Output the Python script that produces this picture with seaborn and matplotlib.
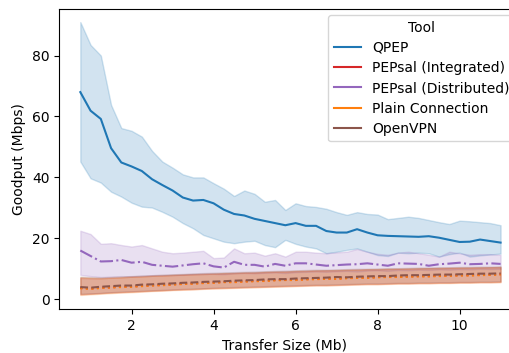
import numpy as np
import pandas as pd
import seaborn as sns
import matplotlib.pyplot as plt

sizes = [0.75, 1.0, 1.25, 1.5, 1.75, 2.0, 2.25, 2.5, 2.75, 3.0, 3.25, 3.5, 3.75, 4.0,
         4.25, 4.5, 4.75, 5.0, 5.25, 5.5, 5.75, 6.0, 6.25, 6.5, 6.75, 7.0, 7.25, 7.5,
         7.75, 8.0, 8.25, 8.5, 8.75, 9.0, 9.25, 9.5, 9.75, 10.0, 10.25, 10.5, 10.75, 11.0]

tools = ["QPEP", "PEPsal (Integrated)", "PEPsal (Distributed)", "Plain Connection", "OpenVPN"]

# goodput per tool: mid line, lower and upper edge of the band
qpep_mid = [68.0, 61.9, 59.2, 49.6, 44.9, 43.6, 42.1, 39.4, 37.5, 35.7, 33.4, 32.4, 32.6, 31.5,
            29.4, 28.0, 27.5, 26.4, 25.7, 25.0, 24.3, 25.0, 24.1, 24.1, 22.4, 21.9, 21.9, 23.0,
            21.9, 21.0, 20.8, 20.7, 20.6, 20.5, 20.7, 20.2, 19.5, 18.8, 18.9, 19.6, 19.1, 18.6]
qpep_lo = [45.2, 39.7, 38.3, 35.3, 33.7, 31.7, 30.4, 30.1, 28.7, 27.1, 25.0, 23.3, 21.1, 20.0,
           18.9, 18.4, 18.9, 19.2, 17.8, 17.1, 19.5, 18.2, 17.3, 16.7, 15.1, 15.6, 16.2, 16.7,
           15.6, 14.5, 14.2, 15.3, 15.1, 15.3, 15.1, 14.0, 14.8, 15.3, 14.0, 14.4, 14.7, 15.0]
qpep_hi = [91.0, 83.5, 80.0, 63.8, 56.2, 55.3, 53.4, 48.7, 45.2, 43.2, 41.0, 40.0, 40.0, 38.1,
           36.3, 33.9, 35.7, 34.6, 32.0, 32.6, 29.3, 31.5, 30.6, 30.3, 29.7, 28.6, 27.7, 28.6,
           28.0, 27.8, 26.3, 26.7, 27.1, 26.7, 26.0, 25.3, 24.7, 25.8, 25.6, 25.3, 25.0, 24.3]

integ_mid = [3.7, 3.5, 3.8, 3.9, 4.1, 4.2, 4.4, 4.6, 4.7, 4.9, 5.1, 5.2, 5.4, 5.5,
             5.7, 5.7, 5.9, 6.0, 6.1, 6.3, 6.4, 6.4, 6.6, 6.7, 6.8, 6.8, 7.0, 7.1,
             7.1, 7.3, 7.4, 7.4, 7.5, 7.6, 7.6, 7.7, 7.8, 7.9, 7.9, 8.0, 8.1, 8.2]
integ_lo = [1.6, 1.8, 2.0, 2.2, 2.3, 2.5, 2.6, 2.8, 2.9, 3.1, 3.2, 3.3, 3.5, 3.6,
            3.7, 3.8, 3.9, 4.0, 4.1, 4.2, 4.3, 4.4, 4.5, 4.6, 4.6, 4.7, 4.8, 4.9,
            5.0, 5.0, 5.1, 5.2, 5.2, 5.3, 5.3, 5.4, 5.4, 5.5, 5.5, 5.6, 5.6, 5.7]
integ_hi = [7.0, 6.9, 6.9, 7.1, 7.2, 7.4, 7.5, 7.7, 7.8, 7.9, 8.1, 8.2, 8.3, 8.4,
            8.5, 8.6, 8.7, 8.8, 8.9, 9.0, 9.1, 9.2, 9.3, 9.4, 9.5, 9.5, 9.6, 9.7,
            9.8, 9.8, 9.9, 10.0, 10.0, 10.1, 10.2, 10.2, 10.3, 10.3, 10.4, 10.4, 10.5, 10.5]

dist_mid = [16.0, 14.2, 12.4, 12.5, 12.9, 12.0, 12.3, 11.3, 11.0, 10.7, 11.1, 11.5, 11.8, 10.8,
            10.4, 12.3, 11.3, 11.3, 10.7, 11.6, 11.0, 11.8, 11.8, 11.4, 11.0, 11.2, 11.4, 11.5,
            11.8, 11.4, 11.0, 11.8, 11.7, 11.6, 11.0, 11.5, 11.7, 12.0, 11.5, 11.6, 11.8, 11.6]
dist_lo = [8.0, 7.6, 7.3, 7.4, 7.6, 7.5, 7.7, 7.8, 7.9, 8.0, 8.0, 8.2, 8.3, 8.3,
           8.2, 8.5, 8.6, 8.5, 8.7, 8.8, 8.6, 8.9, 9.0, 9.1, 9.0, 9.2, 9.3, 9.1,
           9.4, 9.5, 9.3, 9.6, 9.5, 9.7, 9.6, 9.8, 9.7, 9.9, 9.8, 10.0, 9.9, 10.0]
dist_hi = [22.5, 21.4, 18.2, 18.4, 17.8, 17.3, 17.8, 16.7, 15.6, 15.1, 15.3, 15.6, 15.9, 13.5,
           13.7, 16.7, 15.1, 15.3, 14.3, 15.1, 14.0, 15.6, 15.6, 15.3, 15.1, 15.4, 15.6, 16.5,
           15.6, 14.9, 14.6, 15.3, 15.6, 15.1, 14.6, 14.0, 15.6, 15.1, 14.6, 14.8, 14.8, 14.6]

plain_mid = [3.6, 3.4, 3.7, 3.9, 4.0, 4.1, 4.3, 4.5, 4.6, 4.8, 5.0, 5.1, 5.3, 5.4,
             5.6, 5.6, 5.8, 5.9, 6.0, 6.2, 6.3, 6.3, 6.5, 6.6, 6.7, 6.7, 6.9, 7.0,
             7.0, 7.2, 7.3, 7.3, 7.4, 7.5, 7.5, 7.6, 7.7, 7.8, 7.8, 7.9, 8.0, 8.1]
plain_lo = [1.4, 1.6, 1.8, 2.0, 2.2, 2.3, 2.5, 2.7, 2.8, 3.0, 3.1, 3.2, 3.4, 3.5,
            3.6, 3.7, 3.8, 3.9, 4.0, 4.1, 4.2, 4.3, 4.4, 4.5, 4.5, 4.6, 4.7, 4.8,
            4.9, 4.9, 5.0, 5.1, 5.1, 5.2, 5.2, 5.3, 5.3, 5.4, 5.4, 5.5, 5.5, 5.6]
plain_hi = [7.2, 7.0, 6.9, 7.0, 7.2, 7.4, 7.5, 7.7, 7.8, 8.0, 8.1, 8.2, 8.3, 8.4,
            8.6, 8.6, 8.8, 8.8, 9.0, 9.1, 9.1, 9.3, 9.3, 9.5, 9.5, 9.6, 9.7, 9.7,
            9.9, 9.9, 10.0, 10.0, 10.1, 10.2, 10.2, 10.3, 10.3, 10.4, 10.4, 10.5, 10.5, 10.6]

vpn_mid = [4.0, 3.8, 4.1, 4.3, 4.5, 4.5, 4.8, 4.9, 5.1, 5.2, 5.4, 5.5, 5.7, 5.8,
           5.9, 6.1, 6.2, 6.3, 6.5, 6.6, 6.6, 6.8, 6.9, 7.0, 7.1, 7.3, 7.2, 7.4,
           7.5, 7.6, 7.6, 7.8, 7.9, 7.9, 8.0, 8.1, 8.1, 8.2, 8.3, 8.4, 8.4, 8.5]
vpn_lo = [1.8, 1.9, 2.1, 2.3, 2.5, 2.6, 2.8, 2.9, 3.1, 3.2, 3.4, 3.5, 3.6, 3.8,
          3.9, 4.0, 4.1, 4.2, 4.3, 4.4, 4.5, 4.6, 4.7, 4.8, 4.8, 4.9, 5.0, 5.1,
          5.2, 5.2, 5.3, 5.4, 5.4, 5.5, 5.5, 5.6, 5.6, 5.7, 5.7, 5.8, 5.8, 5.9]
vpn_hi = [7.4, 7.3, 7.2, 7.3, 7.5, 7.6, 7.8, 7.9, 8.1, 8.2, 8.3, 8.5, 8.6, 8.7,
          8.8, 8.9, 9.0, 9.1, 9.2, 9.3, 9.4, 9.5, 9.6, 9.7, 9.7, 9.8, 9.9, 10.0,
          10.0, 10.1, 10.2, 10.2, 10.3, 10.4, 10.4, 10.5, 10.5, 10.6, 10.6, 10.7, 10.7, 10.8]

series = {
    "QPEP": (qpep_lo, qpep_mid, qpep_hi),
    "PEPsal (Integrated)": (integ_lo, integ_mid, integ_hi),
    "PEPsal (Distributed)": (dist_lo, dist_mid, dist_hi),
    "Plain Connection": (plain_lo, plain_mid, plain_hi),
    "OpenVPN": (vpn_lo, vpn_mid, vpn_hi),
}

rows = []
for tool in tools:
    for vals in series[tool]:
        assert len(vals) == len(sizes), tool
        for s, v in zip(sizes, vals):
            rows.append({"Transfer Size (Mb)": s, "Goodput (Mbps)": v, "Tool": tool})
df = pd.DataFrame(rows)

palette = ["tab:blue", "tab:red", "tab:purple", "tab:orange", "tab:brown"]
styles = ["-", ":", "-.", ":", "--"]

fig = plt.figure(figsize=(5.1, 3.53), dpi=100)
# the original is cropped on the right: axes end at the figure edge, no right spine
ax = fig.add_axes([0.1163, 0.1238, 0.8837, 0.8499])

# median of (lo, mid, hi) is the mid line, full percentile range is the band
sns.lineplot(data=df, x="Transfer Size (Mb)", y="Goodput (Mbps)", hue="Tool",
             hue_order=tools, palette=palette, estimator="median",
             errorbar=("pi", 100), ax=ax)

data_lines = [l for l in ax.lines if len(l.get_xdata()) > 0]
for line, ls in zip(data_lines, styles):
    line.set_linestyle(ls)

ax.set_xlim(0.2375, 11.23)
ax.set_ylim(-3.3, 95.2)
ax.spines["right"].set_visible(False)

sns.move_legend(ax, "upper left", title="Tool", mode="expand",
                bbox_to_anchor=(0.5962, 0.5, 0.4127, 0.481), borderaxespad=0,
                labelspacing=0.45)

fig.savefig("out.png", dpi=100)
